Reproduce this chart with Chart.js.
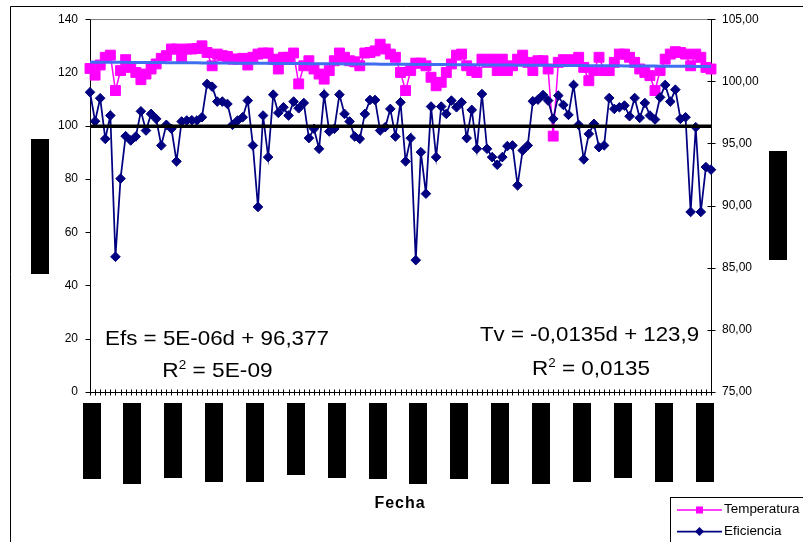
<!DOCTYPE html>
<html>
<head>
<meta charset="utf-8">
<script src="https://cdn.jsdelivr.net/npm/chart.js@4.4.1/dist/chart.umd.min.js"></script>
<style>
    html, body { margin: 0; padding: 0; background: #fff; }
    #wrap { width: 803px; height: 542px; }
</style>
</head>
<body>
<div id="wrap"><canvas id="myChart" width="803" height="542"></canvas></div>
<script>
// Temperatura (left axis) and Eficiencia (right axis), one reading per day
let temperatura = [
    121.5, 119.0, 122.8, 125.7, 126.5, 113.2, 120.7, 124.8, 121.9, 120.0,
    117.3, 119.4, 121.3, 123.2, 125.3, 126.3, 128.8, 128.8, 125.7, 128.8,
    128.8, 129.0, 130.0, 127.5, 122.5, 126.9, 126.3, 126.0, 125.0, 125.0,
    125.3, 122.8, 125.7, 126.9, 127.3, 127.3, 125.0, 121.3, 125.7, 125.7,
    127.3, 115.7, 122.5, 124.4, 121.3, 119.4, 117.5, 120.7, 124.4, 127.3,
    125.7, 124.4, 124.0, 122.5, 127.3, 127.5, 128.1, 130.6, 128.8, 126.9,
    125.7, 120.0, 113.2, 120.7, 123.5, 123.5, 122.5, 118.2, 115.0, 116.3,
    120.0, 123.2, 126.5, 126.9, 122.5, 120.7, 120.0, 125.0, 123.8, 125.0,
    120.7, 125.0, 120.7, 122.5, 125.0, 126.5, 123.8, 120.7, 124.4, 124.4,
    121.3, 96.1, 123.8, 124.8, 124.4, 124.8, 125.7, 121.9, 116.9, 120.7,
    125.7, 120.7, 120.7, 123.8, 126.9, 126.9, 125.7, 123.8, 121.3, 120.0,
    118.8, 113.2, 120.7, 125.0, 126.9, 127.8, 127.5, 126.9, 122.5, 126.9,
    125.7, 121.9, 121.3
];

let eficiencia = [
    99.12, 96.79, 98.64, 95.37, 97.25, 85.88, 92.17, 95.59, 95.24, 95.56,
    97.59, 96.04, 97.38, 96.98, 94.84, 96.50, 96.18, 93.56, 96.77, 96.85,
    96.87, 96.85, 97.11, 99.79, 99.57, 98.37, 98.37, 98.18, 96.50, 96.85,
    97.11, 98.45, 94.84, 89.89, 97.25, 93.90, 98.93, 97.46, 97.91, 97.25,
    98.37, 97.83, 98.26, 95.43, 96.18, 94.57, 98.93, 95.96, 96.18, 98.93,
    97.38, 96.77, 95.56, 95.37, 97.38, 98.50, 98.50, 96.04, 96.31, 97.78,
    95.56, 98.31, 93.56, 95.43, 85.61, 94.30, 90.96, 97.97, 93.90, 97.97,
    97.38, 98.45, 97.91, 98.31, 95.43, 97.70, 94.57, 98.98, 94.57, 93.90,
    93.29, 93.90, 94.79, 94.84, 91.63, 94.44, 94.84, 98.40, 98.53, 98.90,
    98.45, 96.98, 98.85, 98.10, 97.30, 99.71, 96.50, 93.72, 95.77, 96.58,
    94.70, 94.84, 98.66, 97.78, 97.91, 98.05, 97.19, 98.66, 97.06, 98.26,
    97.25, 96.93, 98.71, 99.71, 98.37, 99.33, 96.98, 97.11, 89.49, 96.31,
    89.49, 93.10, 92.89
];

// day number d used by both regressions
let dias = temperatura.map((v, i) => i + 1);

let ticksIzq = [0, 20, 40, 60, 80, 100, 120, 140];
let ticksDer = [75, 80, 85, 90, 95, 100, 105];

// regression lines as printed on the chart
let efsPend = 0.000005, efsOrig = 96.377;
let tvPend = -0.0135, tvOrig = 123.9;
let efsTrend = dias.map(d => efsPend * d + efsOrig);
let tvTrend = dias.map(d => tvPend * d + tvOrig);

const FONT = '"Liberation Sans", Arial, sans-serif';

// heights of the blocked-out date labels under every 8th day
const bloques = [76, 81, 75, 79, 79, 72, 75, 76, 81, 76, 81, 81, 79, 75, 79, 79];

// draws mixed-size text (for the R² superscript), centred on cx, stretched by k
function textoPartes(ctx, partes, cx, base, k) {
    let w = 0;
    partes.forEach(p => { ctx.font = p[1] + 'px ' + FONT; w += ctx.measureText(p[0]).width; });
    ctx.save();
    ctx.translate(cx, base);
    ctx.scale(k, 1);
    let x = -w / 2;
    partes.forEach(p => {
        ctx.font = p[1] + 'px ' + FONT;
        ctx.fillText(p[0], x, -p[2]);
        x += ctx.measureText(p[0]).width;
    });
    ctx.restore();
}

const marco = {
    id: 'marco',
    beforeDraw(chart) {
        let ctx = chart.ctx;
        ctx.save();
        ctx.fillStyle = '#fff';
        ctx.fillRect(0, 0, chart.width, chart.height);
        ctx.strokeStyle = '#000';
        ctx.lineWidth = 1;
        ctx.beginPath();
        ctx.moveTo(10.5, chart.height);
        ctx.lineTo(10.5, 6.5);
        ctx.lineTo(chart.width, 6.5);
        ctx.stroke();
        ctx.restore();
    },
    beforeDatasetsDraw(chart) {
        let ctx = chart.ctx, a = chart.chartArea;
        let sx = chart.scales.x, sy = chart.scales.y, sy1 = chart.scales.y1;
        let L = Math.round(a.left) + 0.5, R = Math.round(a.right) + 0.5;
        let T = Math.round(a.top) + 0.5, B = Math.round(a.bottom) + 0.5;
        ctx.save();
        ctx.lineWidth = 1;
        ctx.strokeStyle = '#808080';
        ctx.beginPath();
        ctx.moveTo(L, T); ctx.lineTo(R, T);
        ctx.stroke();

        ctx.strokeStyle = '#000';
        ctx.beginPath();
        ctx.moveTo(L, T); ctx.lineTo(L, B); ctx.lineTo(R, B);
        ctx.moveTo(R, T); ctx.lineTo(R, B);
        ticksIzq.forEach(v => {
            let y = Math.round(sy.getPixelForValue(v)) + 0.5;
            ctx.moveTo(L - 5, y); ctx.lineTo(L, y);
        });
        ticksDer.forEach(v => {
            let y = Math.round(sy1.getPixelForValue(v)) + 0.5;
            ctx.moveTo(R - 4, y); ctx.lineTo(R + 4, y);
        });
        dias.forEach((d, i) => {
            let x = Math.round(sx.getPixelForValue(i)) + 0.5;
            ctx.moveTo(x, B - 3); ctx.lineTo(x, B + 3);
        });
        ctx.stroke();

        // date labels and axis titles are blocked out
        ctx.fillStyle = '#000';
        bloques.forEach((h, k) => {
            let x = sx.getPixelForValue(k * 8) + 1.5 + k * 0.15;
            ctx.fillRect(Math.round(x - 9), 403, 18, h);
        });
        ctx.fillRect(31, 139, 18, 135);
        ctx.fillRect(769, 151, 18, 109);
        ctx.restore();
    },
    afterDraw(chart) {
        let ctx = chart.ctx;
        ctx.save();
        ctx.fillStyle = '#000';
        ctx.textBaseline = 'alphabetic';
        ctx.textAlign = 'left';

        textoPartes(ctx, [['Efs = 5E-06d + 96,377', 21, 0]], 217, 344.5, 1.065);
        textoPartes(ctx, [['R', 21, 0], ['2', 12.5, 8], [' = 5E-09', 21, 0]], 217.5, 376.5, 1.08);
        textoPartes(ctx, [['Tv = -0,0135d + 123,9', 21, 0]], 589.5, 340.5, 1.06);
        textoPartes(ctx, [['R', 21, 0], ['2', 12.5, 8], [' = 0,0135', 21, 0]], 591, 375, 1.07);

        // x axis title
        ctx.font = 'bold 16px ' + FONT;
        ctx.textAlign = 'center';
        ctx.textBaseline = 'middle';
        ctx.letterSpacing = '1px';
        ctx.fillText('Fecha', 400, 504);
        ctx.letterSpacing = '0px';

        // legend
        ctx.fillStyle = '#fff';
        ctx.fillRect(670.5, 497.5, 140, 50);
        ctx.strokeStyle = '#000';
        ctx.lineWidth = 1;
        ctx.strokeRect(670.5, 497.5, 140, 50);

        ctx.lineWidth = 1.5;
        ctx.strokeStyle = '#FF00FF';
        ctx.beginPath(); ctx.moveTo(677, 510); ctx.lineTo(722, 510); ctx.stroke();
        ctx.fillStyle = '#FF00FF';
        ctx.fillRect(696, 506.5, 7, 7);

        ctx.lineWidth = 1.75;
        ctx.strokeStyle = '#000080';
        ctx.beginPath(); ctx.moveTo(677, 531.5); ctx.lineTo(722, 531.5); ctx.stroke();
        ctx.fillStyle = '#000080';
        ctx.beginPath();
        ctx.moveTo(699.5, 527); ctx.lineTo(704, 531.5); ctx.lineTo(699.5, 536); ctx.lineTo(695, 531.5);
        ctx.closePath(); ctx.fill();

        ctx.fillStyle = '#000';
        ctx.font = '12px ' + FONT;
        ctx.textAlign = 'left';
        ctx.save();
        ctx.translate(724, 0);
        ctx.scale(1.12, 1);
        ctx.fillText('Temperatura', 0, 510);
        ctx.fillText('Eficiencia', 0, 531.5);
        ctx.restore();
        ctx.restore();
    }
};

let data = {
    labels: dias,
    datasets: [
        {
            label: 'Temperatura',
            data: temperatura,
            yAxisID: 'y',
            borderColor: '#FF00FF',
            backgroundColor: '#FF00FF',
            borderWidth: 1.5,
            pointStyle: 'rect',
            pointRadius: 7,
            pointBorderWidth: 1,
            tension: 0,
            clip: false,
            order: 3
        }, {
            label: 'Eficiencia',
            data: eficiencia,
            yAxisID: 'y1',
            borderColor: '#000080',
            backgroundColor: '#000080',
            borderWidth: 1.75,
            pointStyle: 'rectRot',
            pointRadius: 4.8,
            pointBorderWidth: 1,
            tension: 0,
            clip: false,
            order: 2
        }, {
            label: 'Tv',
            data: tvTrend,
            yAxisID: 'y',
            borderColor: '#3F6FF0',
            borderWidth: 3,
            pointRadius: 0,
            order: 1
        }, {
            label: 'Efs',
            data: efsTrend,
            yAxisID: 'y1',
            borderColor: '#000000',
            borderWidth: 3.5,
            pointRadius: 0,
            order: 0
        }
    ]
};

let config = {
    type: 'line',
    data: data,
    plugins: [marco],
    options: {
        responsive: false,
        animation: false,
        devicePixelRatio: 1,
        layout: { padding: { top: 18, left: 0, right: 0, bottom: 0 } },
        plugins: {
            legend: { display: false },
            tooltip: { enabled: false }
        },
        scales: {
            x: {
                type: 'category',
                offset: false,
                grid: { display: false, drawTicks: false },
                border: { display: false },
                ticks: { display: false },
                afterFit: s => { s.height = 150; }
            },
            y: {
                position: 'left',
                min: ticksIzq[0],
                max: ticksIzq[ticksIzq.length - 1],
                grid: { display: false, drawTicks: false },
                border: { display: false },
                ticks: {
                    stepSize: 20,
                    padding: 12,
                    color: '#000',
                    font: { family: FONT, size: 12 }
                },
                afterFit: s => { s.width = 90; }
            },
            y1: {
                position: 'right',
                min: ticksDer[0],
                max: ticksDer[ticksDer.length - 1],
                grid: { display: false, drawTicks: false },
                border: { display: false },
                ticks: {
                    stepSize: 5,
                    padding: 11,
                    color: '#000',
                    font: { family: FONT, size: 12 },
                    callback: v => v.toFixed(2).replace('.', ',')
                },
                afterFit: s => { s.width = 92; }
            }
        }
    }
};

let myChart = new Chart(document.getElementById('myChart'), config);
</script>
</body>
</html>
